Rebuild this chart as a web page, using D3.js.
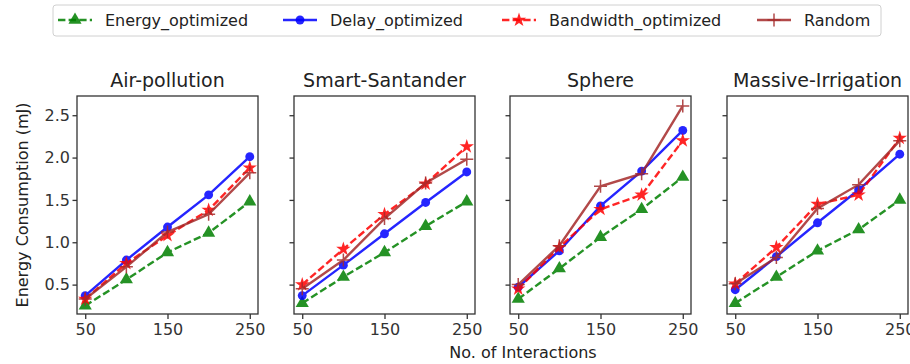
<!DOCTYPE html>
<html>
<head>
<meta charset="utf-8">
<script src="https://cdn.jsdelivr.net/npm/d3@7"></script>
<style>
  body { margin: 0; background: #fff; }
  svg { font-family: "DejaVu Sans", sans-serif; }
</style>
</head>
<body>
<div id="chart"></div>
<script>
const xValues = [50, 100, 150, 200, 250];
const xTicks = [50, 150, 250];
const yTicks = [0.5, 1.0, 1.5, 2.0, 2.5];
const panels = ["Air-pollution", "Smart-Santander", "Sphere", "Massive-Irrigation"];
const seriesNames = ["Energy_optimized", "Delay_optimized", "Bandwidth_optimized", "Random"];

// one array per series, one row per panel
const energyOpt = [
  [0.25, 0.56, 0.88, 1.11, 1.48],
  [0.28, 0.59, 0.88, 1.19, 1.48],
  [0.33, 0.69, 1.06, 1.39, 1.77],
  [0.28, 0.59, 0.90, 1.15, 1.50]
];
const delayOpt = [
  [0.37, 0.79, 1.18, 1.56, 2.01],
  [0.37, 0.73, 1.10, 1.47, 1.83],
  [0.47, 0.90, 1.43, 1.84, 2.32],
  [0.44, 0.83, 1.23, 1.62, 2.04]
];
const bandwidthOpt = [
  [0.33, 0.75, 1.08, 1.38, 1.88],
  [0.50, 0.92, 1.33, 1.69, 2.13],
  [0.45, 0.94, 1.39, 1.56, 2.20],
  [0.51, 0.94, 1.45, 1.56, 2.23]
];
const randomSel = [
  [0.33, 0.71, 1.12, 1.33, 1.82],
  [0.45, 0.79, 1.28, 1.70, 1.98],
  [0.50, 0.96, 1.66, 1.81, 2.61],
  [0.51, 0.82, 1.40, 1.68, 2.20]
];

const W = 910, H = 364;
const panelLeft = [77, 294, 510, 727];
const panelW = 181, plotTop = 96, plotBottom = 314;

const styles = [
  { data: energyOpt, color: "green", dash: "7.4,3.2", marker: d3.symbolTriangle, size: 75 },
  { data: delayOpt, color: "blue", dash: null, marker: d3.symbolCircle, size: 62 },
  { data: bandwidthOpt, color: "red", dash: "7.4,3.2", marker: d3.symbolStar, size: 64 },
  { data: randomSel, color: "#a52a2a", dash: null, marker: "plus", size: 13 }
];

const svg = d3.select("#chart").append("svg")
  .attr("width", W).attr("height", H);

const x = d3.scaleLinear().domain([40, 260]);
const y = d3.scaleLinear().domain([0.153, 2.727]).range([plotBottom, plotTop]);

function drawMarker(g, s, px, py) {
  if (s.marker === "plus") {
    const h = s.size / 2;
    g.append("path")
      .attr("d", `M${px - h},${py}H${px + h}M${px},${py - h}V${py + h}`)
      .attr("stroke", s.color).attr("stroke-width", 1.5).attr("fill", "none");
  } else {
    g.append("path")
      .attr("d", d3.symbol().type(s.marker).size(s.size)())
      .attr("transform", `translate(${px},${py})`)
      .attr("fill", s.color);
  }
}

panels.forEach((name, pi) => {
  const left = panelLeft[pi];
  const xs = x.copy().range([left, left + panelW]);
  const g = svg.append("g");

  // clip lines to the axes box
  const clipId = "clip" + pi;
  svg.append("clipPath").attr("id", clipId).append("rect")
    .attr("x", left).attr("y", plotTop).attr("width", panelW).attr("height", plotBottom - plotTop);

  const plot = g.append("g").attr("clip-path", `url(#${clipId})`);

  styles.forEach(s => {
    const vals = s.data[pi];
    const line = d3.line().x((d, i) => xs(xValues[i])).y(d => y(d));
    const sg = plot.append("g").attr("opacity", 0.85);
    sg.append("path")
      .attr("d", line(vals))
      .attr("fill", "none")
      .attr("stroke", s.color)
      .attr("stroke-width", 2.4)
      .attr("stroke-dasharray", s.dash);
    vals.forEach((v, i) => drawMarker(sg, s, xs(xValues[i]), y(v)));
  });

  // axes
  const xAxis = g.append("g")
    .attr("transform", `translate(0,${plotBottom})`)
    .call(d3.axisBottom(xs).tickValues(xTicks).tickSize(5).tickPadding(5).tickSizeOuter(0));
  const yAxis = g.append("g")
    .attr("transform", `translate(${left},0)`)
    .call(d3.axisLeft(y).tickValues(yTicks).tickSize(4.5).tickPadding(2.5).tickSizeOuter(0)
      .tickFormat(pi === 0 ? d3.format(".1f") : () => ""));
  [xAxis, yAxis].forEach(a => {
    a.select(".domain").remove();
    a.selectAll("line").attr("stroke", "#333").attr("stroke-width", 1.3);
    a.selectAll("text").attr("fill", "#333").style("font-size", "16px")
      .style("font-family", "DejaVu Sans, sans-serif");
  });

  g.append("rect")
    .attr("x", left).attr("y", plotTop).attr("width", panelW).attr("height", plotBottom - plotTop)
    .attr("fill", "none").attr("stroke", "#333").attr("stroke-width", 1.3);

  g.append("text")
    .attr("x", left + panelW / 2).attr("y", plotTop - 9)
    .attr("text-anchor", "middle")
    .style("font-size", "19px").attr("fill", "#222")
    .text(name);
});

// axis labels
svg.append("text")
  .attr("transform", `translate(28,${(plotTop + plotBottom) / 2}) rotate(-90)`)
  .attr("text-anchor", "middle")
  .style("font-size", "16px").attr("fill", "#222")
  .text("Energy Consumption (mJ)");

svg.append("text")
  .attr("x", 523).attr("y", 358)
  .attr("text-anchor", "middle")
  .style("font-size", "16px").attr("fill", "#222")
  .text("No. of Interactions");

// legend
const legend = svg.append("g");
legend.append("rect")
  .attr("x", 53).attr("y", 5).attr("width", 828).attr("height", 31)
  .attr("rx", 3).attr("fill", "#fff").attr("stroke", "#d0d0d0").attr("stroke-width", 1);

const legendX = [58, 283, 502, 757];
seriesNames.forEach((n, i) => {
  const s = styles[i];
  const lx = legendX[i], ly = 20;
  legend.append("path")
    .attr("d", `M${lx},${ly}H${lx + 34}`)
    .attr("stroke", s.color).attr("stroke-width", 2.4)
    .attr("stroke-dasharray", s.dash).attr("opacity", 0.85);
  drawMarker(legend.append("g").attr("opacity", 0.85), s, lx + 17, ly);
  legend.append("text")
    .attr("x", lx + 47).attr("y", ly + 6)
    .style("font-size", "16px").attr("fill", "#222")
    .text(n);
});
</script>
</body>
</html>
